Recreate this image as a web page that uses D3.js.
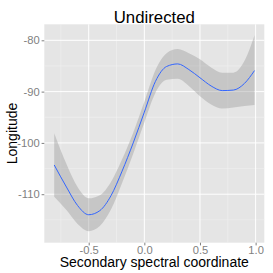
<!DOCTYPE html>
<meta charset="utf-8">
<html>
<head>
<script src="https://cdn.jsdelivr.net/npm/d3@7"></script>
<style>
body { margin: 0; background: white; }
text { font-family: "Liberation Sans", Arial, sans-serif; }
</style>
</head>
<body>
<script>

// smoothed fit
var xVals = [-0.81, -0.7, -0.6, -0.5, -0.4, -0.3, -0.2, -0.1, 0, 0.1, 0.2, 0.3, 0.4, 0.5, 0.6, 0.7, 0.8, 0.9, 0.99];
var fitVals = [-104.3, -108.6, -112.2, -114.0, -113.2, -110.3, -105.5, -100.0, -94.0, -88.0, -85.1, -84.6, -85.7, -87.3, -88.9, -89.8, -89.7, -88.4, -85.9];
var lowerVals = [-110.5, -113.1, -115.8, -117.2, -116.2, -113.0, -107.8, -102.1, -96.0, -90.2, -87.7, -87.5, -88.9, -90.9, -92.5, -93.3, -93.1, -92.8, -92.6];
var upperVals = [-98.1, -104.1, -108.6, -110.8, -110.2, -107.6, -103.2, -98.0, -92.0, -85.8, -82.5, -81.7, -82.5, -83.7, -85.3, -86.3, -86.3, -84.0, -79.0];

var xTicks = [-0.5, 0, 0.5, 1];
var xMinor = [-0.75, -0.25, 0.25, 0.75];
var yTicks = [-110, -100, -90, -80];
var yMinor = [-115, -105, -95, -85];

var titleText = "Undirected";
var xLabel = "Secondary spectral coordinate";
var yLabel = "Longitude";

var width = 273, height = 273;
// panel edges ("top" is a reserved window property, so prefixed names)
var pLeft = 44.3, pRight = 264.3, pTop = 24.3, pBottom = 242.7;

var svg = d3.select("body").append("svg")
  .attr("width", width)
  .attr("height", height);

var x = d3.scaleLinear().domain([-0.899, 1.078]).range([pLeft, pRight]);
var y = d3.scaleLinear().domain([-119.45, -76.88]).range([pBottom, pTop]);

// panel
svg.append("rect")
  .attr("x", pLeft).attr("y", pTop)
  .attr("width", pRight - pLeft).attr("height", pBottom - pTop)
  .style("fill", "#e5e5e5");

// grid lines, minor then major
svg.selectAll(".xminor").data(xMinor).enter().append("line")
  .attr("x1", function(d) { return x(d); }).attr("x2", function(d) { return x(d); })
  .attr("y1", pTop).attr("y2", pBottom)
  .style("stroke", "#f2f2f2").style("stroke-width", 0.5);
svg.selectAll(".yminor").data(yMinor).enter().append("line")
  .attr("y1", function(d) { return y(d); }).attr("y2", function(d) { return y(d); })
  .attr("x1", pLeft).attr("x2", pRight)
  .style("stroke", "#f2f2f2").style("stroke-width", 0.5);
svg.selectAll(".xmajor").data(xTicks).enter().append("line")
  .attr("x1", function(d) { return x(d); }).attr("x2", function(d) { return x(d); })
  .attr("y1", pTop).attr("y2", pBottom)
  .style("stroke", "white").style("stroke-width", 1);
svg.selectAll(".ymajor").data(yTicks).enter().append("line")
  .attr("y1", function(d) { return y(d); }).attr("y2", function(d) { return y(d); })
  .attr("x1", pLeft).attr("x2", pRight)
  .style("stroke", "white").style("stroke-width", 1);

var pts = xVals.map(function(v, i) {
  return { x: v, fit: fitVals[i], lo: lowerVals[i], hi: upperVals[i] };
});

// confidence ribbon
var band = d3.area()
  .curve(d3.curveMonotoneX)
  .x(function(d) { return x(d.x); })
  .y0(function(d) { return y(d.lo); })
  .y1(function(d) { return y(d.hi); });
svg.append("path").datum(pts)
  .attr("d", band)
  .style("fill", "#999999").style("fill-opacity", 0.4);

// smooth line
var line = d3.line()
  .curve(d3.curveMonotoneX)
  .x(function(d) { return x(d.x); })
  .y(function(d) { return y(d.fit); });
svg.append("path").datum(pts)
  .attr("d", line)
  .style("fill", "none").style("stroke", "#3366ff").style("stroke-width", 1);

// axes
var xAxis = d3.axisBottom(x).tickValues(xTicks).tickSize(2.7).tickPadding(1);
var gx = svg.append("g").attr("transform", "translate(0," + pBottom + ")").call(xAxis);
var yAxis = d3.axisLeft(y).tickValues(yTicks).tickSize(2.7).tickPadding(2);
var gy = svg.append("g").attr("transform", "translate(" + pLeft + ",0)").call(yAxis);

[gx, gy].forEach(function(g) {
  g.select(".domain").remove();
  g.selectAll("line").style("stroke", "#7f7f7f");
  g.selectAll("text")
    .style("fill", "#7f7f7f")
    .style("font-size", "11.2px")
    .style("font-family", "'Liberation Sans', Arial, sans-serif");
});
gx.selectAll("text").text(function(d) { return d.toFixed(1); });
gy.selectAll("text").text(function(d) { return String(d); });

// titles
svg.append("text")
  .attr("x", (pLeft + pRight) / 2).attr("y", 22.7)
  .attr("text-anchor", "middle")
  .style("font-size", "16.8px")
  .text(titleText);

svg.append("text")
  .attr("x", (pLeft + pRight) / 2).attr("y", 267)
  .attr("text-anchor", "middle")
  .style("font-size", "14px")
  .text(xLabel);

svg.append("text")
  .attr("transform", "translate(17," + ((pTop + pBottom) / 2) + ") rotate(-90)")
  .attr("text-anchor", "middle")
  .style("font-size", "14px")
  .text(yLabel);
</script>
</body>
</html>
